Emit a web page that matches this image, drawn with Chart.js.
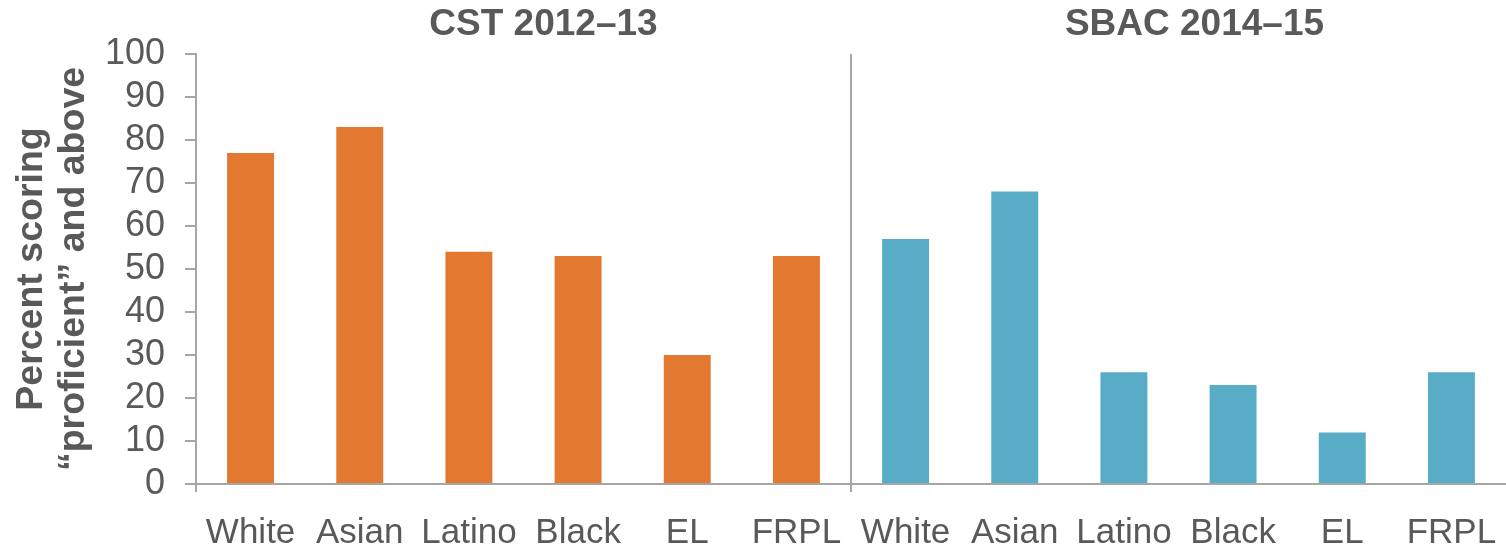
<!DOCTYPE html>
<html>
<head>
<meta charset="utf-8">
<script src="https://cdn.jsdelivr.net/npm/chart.js@4/dist/chart.umd.min.js"></script>
<style>
  body { margin: 0; background: #fff; }
  canvas { display: block; }
</style>
</head>
<body>
<canvas id="chart" width="1506" height="547"></canvas>
<script>
// data
const groups = ['White', 'Asian', 'Latino', 'Black', 'EL', 'FRPL'];
const periods = ['CST 2012–13', 'SBAC 2014–15'];
const cstValues = [77, 83, 54, 53, 30, 53];
const sbacValues = [57, 68, 26, 23, 12, 26];
const yTitle = ['Percent scoring', '“proficient” and above'];

const FONT = '"Liberation Sans", Arial, sans-serif';
const TEXT = '#595959';
const AXIS = '#a6a6a6';

const labels = groups.concat(groups);
const blanks = groups.map(() => null);

// group headings, divider and the little axis ticks below the baseline
const decorations = {
  id: 'decorations',
  afterDraw(chart) {
    const { ctx, chartArea } = chart;
    const x = chart.scales.x;
    const n = groups.length;
    const left = x.getPixelForValue(-0.5);
    const mid = x.getPixelForValue(n - 0.5);
    ctx.save();
    ctx.strokeStyle = AXIS;
    ctx.lineWidth = 2;
    ctx.beginPath();
    ctx.moveTo(mid, chartArea.top);
    ctx.lineTo(mid, chartArea.bottom + 8);
    ctx.moveTo(left, chartArea.bottom);
    ctx.lineTo(left, chartArea.bottom + 8);
    ctx.stroke();

    ctx.fillStyle = TEXT;
    ctx.font = 'bold 37px ' + FONT;
    ctx.textAlign = 'center';
    ctx.textBaseline = 'middle';
    ctx.fillText(periods[0], x.getPixelForValue((n - 1) / 2) + 20, 25);
    ctx.fillText(periods[1], x.getPixelForValue(n + (n - 1) / 2) + 16, 25);
    ctx.restore();
  }
};

new Chart(document.getElementById('chart'), {
  type: 'bar',
  data: {
    labels: labels,
    datasets: [
      { label: periods[0], data: cstValues.concat(blanks), backgroundColor: '#e37830' },
      { label: periods[1], data: blanks.concat(sbacValues), backgroundColor: '#58acc6' }
    ]
  },
  options: {
    responsive: false,
    animation: false,
    layout: { padding: { top: 54, right: 0, left: 0, bottom: 0 } },
    datasets: { bar: { grouped: false, categoryPercentage: 1, barPercentage: 0.43, borderWidth: 0 } },
    plugins: { legend: { display: false }, tooltip: { enabled: false } },
    scales: {
      x: {
        grid: { display: false },
        border: { color: AXIS, width: 2 },
        ticks: { color: TEXT, font: { family: FONT, size: 35 }, padding: 20, maxRotation: 0, autoSkip: false },
        afterFit: s => { s.height = 63; s.paddingLeft = 0; s.paddingRight = 0; }
      },
      y: {
        min: 0,
        max: 100,
        ticks: { stepSize: 10, autoSkip: false, color: TEXT, font: { family: FONT, size: 36 }, padding: 20 },
        grid: { drawOnChartArea: false, tickLength: 11, color: AXIS, lineWidth: 2 },
        border: { color: AXIS, width: 2 },
        title: {
          display: true,
          text: yTitle,
          color: TEXT,
          font: { family: FONT, size: 37.5, weight: 'bold', lineHeight: 1.12 },
          padding: { top: 11, bottom: 0 }
        },
        afterFit: s => { s.width = 196; s.paddingTop = 0; s.paddingBottom = 0; }
      }
    }
  },
  plugins: [decorations]
});
</script>
</body>
</html>
